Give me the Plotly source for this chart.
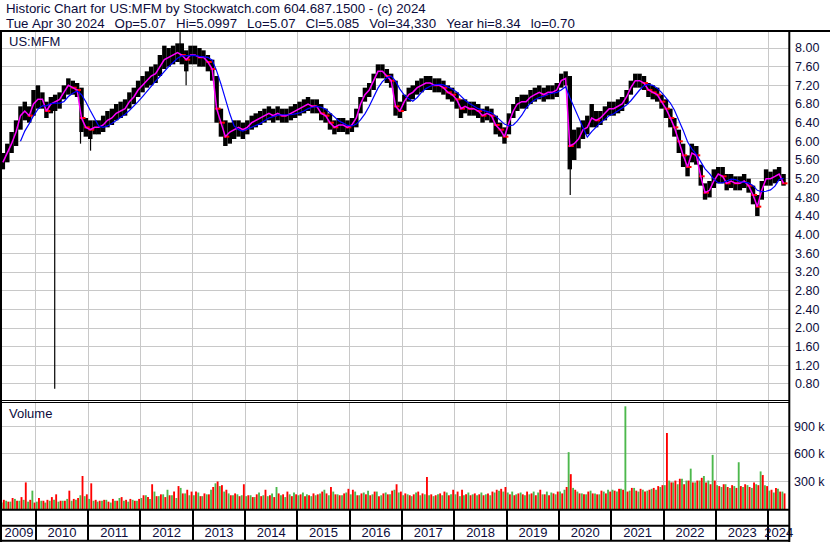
import numpy as np
import pandas as pd
import plotly.graph_objects as go

# ---------------- data ----------------
months = pd.date_range("2009-05-01", "2024-04-01", freq="MS")

close = [
    5.55, 5.75, 5.95, 6.20, 6.55, 6.65, 6.55, 6.80,                          # 2009 May-Dec
    6.90, 6.90, 6.65, 6.80, 6.85, 6.90, 7.05, 7.20, 7.15, 7.10, 6.50, 6.30,  # 2010
    6.25, 6.30, 6.30, 6.35, 6.45, 6.50, 6.60, 6.65, 6.70, 6.85, 6.95, 7.10,  # 2011
    7.20, 7.30, 7.40, 7.45, 7.60, 7.75, 7.80, 7.85, 7.90, 7.85, 7.75, 7.85,  # 2012
    7.85, 7.80, 7.80, 7.70, 7.55, 6.70, 6.40, 6.10, 6.20, 6.25, 6.30, 6.25,  # 2013
    6.30, 6.40, 6.45, 6.50, 6.55, 6.60, 6.55, 6.60, 6.55, 6.55, 6.60, 6.65,  # 2014
    6.70, 6.75, 6.80, 6.75, 6.75, 6.60, 6.55, 6.40, 6.30, 6.35, 6.35, 6.30,  # 2015
    6.35, 6.50, 6.80, 7.00, 7.10, 7.30, 7.50, 7.50, 7.40, 7.30, 6.75, 6.65,  # 2016
    6.85, 7.00, 7.05, 7.15, 7.20, 7.25, 7.25, 7.20, 7.20, 7.15, 7.05, 7.00,  # 2017
    6.90, 6.70, 6.75, 6.70, 6.70, 6.65, 6.55, 6.60, 6.55, 6.35, 6.25, 6.10,  # 2018
    6.40, 6.65, 6.80, 6.85, 6.85, 6.95, 7.00, 7.05, 7.00, 7.05, 7.05, 7.10,  # 2019
    7.30, 7.35, 5.90, 5.95, 6.05, 6.25, 6.30, 6.50, 6.45, 6.50, 6.60, 6.70,  # 2020
    6.70, 6.75, 6.80, 6.95, 7.15, 7.30, 7.30, 7.25, 7.10, 7.05, 7.00, 6.85,  # 2021
    6.70, 6.50, 6.30, 6.00, 5.70, 5.45, 5.75, 5.70, 5.25, 4.90, 4.95, 5.15,  # 2022
    5.30, 5.25, 5.10, 5.15, 5.10, 5.10, 5.15, 5.05, 4.85, 4.60, 4.95, 5.20,  # 2023
    5.20, 5.25, 5.30, 5.10,                                                  # 2024 Jan-Apr
]
high = [
    5.75, 5.95, 6.20, 6.45, 6.75, 6.85, 6.75, 7.10,
    7.20, 7.05, 6.85, 6.95, 7.00, 7.05, 7.20, 7.35, 7.30, 7.25, 7.15, 6.50,
    6.45, 6.45, 6.45, 6.55, 6.65, 6.70, 6.80, 6.85, 6.90, 7.05, 7.15, 7.30,
    7.40, 7.50, 7.60, 7.65, 7.85, 8.05, 8.00, 8.05, 8.10, 8.10, 7.95, 8.05,
    8.05, 8.00, 7.95, 7.85, 7.75, 7.40, 6.70, 6.45, 6.40, 6.45, 6.45, 6.40,
    6.45, 6.55, 6.60, 6.65, 6.70, 6.75, 6.70, 6.75, 6.70, 6.70, 6.75, 6.80,
    6.85, 6.90, 6.95, 6.90, 6.90, 6.80, 6.70, 6.60, 6.45, 6.50, 6.50, 6.45,
    6.50, 6.70, 6.95, 7.15, 7.25, 7.45, 7.65, 7.65, 7.55, 7.45, 7.30, 6.85,
    7.00, 7.15, 7.20, 7.30, 7.35, 7.40, 7.40, 7.35, 7.35, 7.30, 7.20, 7.15,
    7.05, 6.90, 6.90, 6.85, 6.85, 6.80, 6.70, 6.75, 6.70, 6.55, 6.40, 6.30,
    6.60, 6.80, 6.95, 7.00, 7.00, 7.10, 7.15, 7.20, 7.15, 7.20, 7.20, 7.25,
    7.45, 7.50, 7.40, 6.25, 6.30, 6.45, 6.55, 6.80, 6.65, 6.65, 6.75, 6.85,
    6.85, 6.90, 6.95, 7.10, 7.30, 7.45, 7.45, 7.40, 7.25, 7.20, 7.15, 7.00,
    6.90, 6.70, 6.50, 6.25, 5.95, 5.70, 5.95, 5.90, 5.50, 5.10, 5.15, 5.40,
    5.45, 5.45, 5.30, 5.30, 5.25, 5.25, 5.30, 5.20, 5.05, 4.85, 5.15, 5.40,
    5.35, 5.40, 5.45, 5.30,
]
low = [
    5.40, 5.55, 5.75, 5.90, 6.25, 6.45, 6.40, 6.55,
    6.70, 6.70, 6.50, 6.60, 6.65, 6.70, 6.90, 7.00, 7.00, 6.95, 6.20, 6.10,
    6.05, 6.15, 6.15, 6.20, 6.30, 6.35, 6.45, 6.50, 6.55, 6.70, 6.80, 6.95,
    7.05, 7.15, 7.20, 7.25, 7.40, 7.55, 7.60, 7.65, 7.70, 7.65, 7.50, 7.65,
    7.65, 7.60, 7.60, 7.50, 7.30, 6.40, 6.10, 5.90, 5.95, 6.05, 6.10, 6.05,
    6.15, 6.25, 6.30, 6.35, 6.40, 6.45, 6.40, 6.45, 6.40, 6.40, 6.45, 6.50,
    6.55, 6.60, 6.65, 6.60, 6.60, 6.45, 6.40, 6.25, 6.15, 6.20, 6.20, 6.15,
    6.20, 6.30, 6.60, 6.85, 6.95, 7.10, 7.35, 7.35, 7.25, 7.15, 6.55, 6.50,
    6.65, 6.85, 6.90, 7.00, 7.05, 7.10, 7.10, 7.05, 7.05, 7.00, 6.90, 6.85,
    6.70, 6.50, 6.60, 6.55, 6.55, 6.50, 6.40, 6.45, 6.40, 6.15, 6.10, 5.95,
    6.15, 6.50, 6.65, 6.70, 6.70, 6.80, 6.85, 6.90, 6.85, 6.90, 6.90, 6.95,
    7.15, 7.20, 5.40, 5.60, 5.85, 6.05, 6.15, 6.30, 6.30, 6.35, 6.45, 6.55,
    6.55, 6.60, 6.65, 6.80, 7.00, 7.15, 7.15, 7.10, 6.95, 6.90, 6.85, 6.70,
    6.50, 6.30, 6.10, 5.75, 5.45, 5.25, 5.55, 5.50, 5.05, 4.75, 4.80, 5.00,
    5.10, 5.10, 4.95, 5.00, 4.95, 4.95, 5.00, 4.90, 4.65, 4.40, 4.75, 5.05,
    5.05, 5.10, 5.15, 5.05,
]

# isolated single-day extreme prints
spike_dates = ["2010-05-13", "2010-11-09", "2011-01-18", "2012-10-04", "2012-11-15", "2020-03-19"]
spike_lo = [0.70, 5.95, 5.80, 7.80, 7.20, 4.85]
spike_hi = [6.90, 7.00, 6.30, 8.34, 7.80, 6.20]

# volume (thousands): an "up" (green) and a "down" (red) bar per month
vol_green = [
    70, 90, 80, 110, 90, 100, 80, 200,
    80, 90, 70, 90, 100, 80, 90, 110, 90, 100, 150, 140,
    110, 90, 80, 90, 100, 70, 90, 120, 90, 80, 100, 90,
    120, 150, 110, 190, 140, 160, 210, 150, 120, 230, 170, 150,
    150, 180, 140, 160, 210, 280, 250, 190, 170, 150, 160, 150,
    140, 150, 130, 180, 150, 140, 170, 240, 150, 130, 160, 180,
    150, 180, 160, 140, 150, 170, 210, 150, 190, 160, 150, 180,
    160, 190, 150, 180, 200, 160, 190, 150, 180, 160, 210, 180,
    150, 160, 140, 180, 150, 160, 150, 140, 160, 150, 180, 160,
    160, 140, 150, 180, 160, 150, 180, 160, 150, 180, 200, 190,
    180, 190, 160, 180, 150, 160, 190, 180, 160, 190, 180, 160,
    190, 210, 620, 230, 190, 170, 160, 200, 170, 160, 190, 210,
    210, 190, 220, 1120, 200, 230, 190, 210, 200, 220, 210, 240,
    260, 310, 290, 270, 330, 310, 440, 290, 310, 360, 310, 590,
    260, 240, 270, 230, 250, 510, 240, 260, 230, 270, 410, 260,
    200, 180, 220, 190,
]
vol_red = [
    100, 80, 120, 90, 130, 290, 100, 70,
    120, 90, 100, 130, 160, 90, 90, 200, 110, 120, 360, 160,
    280, 100, 90, 100, 80, 110, 90, 130, 100, 110, 90, 110,
    150, 130, 270, 140, 160, 130, 150, 190, 250, 170, 210, 190,
    190, 140, 170, 160, 240, 300, 260, 210, 150, 170, 140, 270,
    150, 130, 160, 140, 210, 150, 130, 170, 160, 190, 140, 160,
    160, 140, 150, 170, 160, 190, 170, 240, 160, 150, 170, 220,
    210, 150, 170, 160, 150, 190, 140, 170, 160, 200, 270, 190,
    170, 150, 160, 190, 170, 350, 160, 150, 170, 190, 150, 210,
    190, 210, 160, 150, 170, 160, 150, 170, 190, 210, 220, 240,
    160, 150, 170, 160, 190, 170, 150, 210, 160, 150, 170, 190,
    170, 240, 380, 210, 170, 160, 190, 170, 160, 200, 170, 190,
    200, 220, 210, 190, 230, 200, 220, 190, 210, 230, 250, 260,
    830, 290, 310, 330, 270, 310, 290, 310, 340, 290, 270, 310,
    250, 270, 240, 260, 230, 250, 270, 240, 290, 260, 370, 250,
    210, 230, 190, 170,
]

years = list(range(2009, 2025))
price_ticks = [0.80, 1.20, 1.60, 2.00, 2.40, 2.80, 3.20, 3.60, 4.00, 4.40,
               4.80, 5.20, 5.60, 6.00, 6.40, 6.80, 7.20, 7.60, 8.00]
vol_ticks = [300, 600, 900]
vol_tick_text = ["300 k", "600 k", "900 k"]

header1 = "Historic Chart for US:MFM by Stockwatch.com 604.687.1500 - (c) 2024"
header2_fields = ["Tue Apr 30 2024", "Op=5.07", "Hi=5.0997", "Lo=5.07", "Cl=5.085",
                  "Vol=34,330", "Year hi=8.34", "lo=0.70"]

# ---------------- layout geometry (pixels) ----------------
W, H = 830, 543
PL, PR, PT, PB = 2, 789, 32, 541
X0, X1 = pd.Timestamp("2009-05-10"), pd.Timestamp("2024-05-24")
PRICE_RANGE = [0.457, 8.343]
VOL_RANGE = [0, 1167]

def px_x(p):
    return (p - PL) / (PR - PL)

def px_y(p):
    return (PB - p) / (PB - PT)

FONT = "Liberation Sans, Arial, sans-serif"
TXT = "#0c0c3c"
GRID = "#c8c8c8"
DAY = 86400000

close_a = np.array(close)
high_a = np.array(high)
low_a = np.array(low)
mid = months + pd.Timedelta(days=15)

fig = go.Figure()

# price band (monthly high-low)
fig.add_trace(go.Bar(x=mid, y=high_a - low_a, base=low_a, width=31 * DAY,
                     marker=dict(color="black", line=dict(width=0)),
                     xaxis="x", yaxis="y"))
# spikes
sx, sy = [], []
for d, lo_, hi_ in zip(spike_dates, spike_lo, spike_hi):
    sx += [d, d, None]
    sy += [lo_, hi_, None]
fig.add_trace(go.Scatter(x=sx, y=sy, mode="lines", line=dict(color="black", width=1.2),
                         xaxis="x", yaxis="y"))
# red close ticks on down months
down = np.r_[False, close_a[1:] < close_a[:-1]]
fig.add_trace(go.Scatter(x=(mid + pd.Timedelta(days=8))[down], y=close_a[down], mode="markers",
                         marker=dict(symbol="line-ew", size=4,
                                     line=dict(color="#ff0000", width=2)),
                         xaxis="x", yaxis="y"))
# moving averages
fig.add_trace(go.Scatter(x=mid, y=close_a, mode="lines",
                         line=dict(color="#ff00ff", width=1.5), xaxis="x", yaxis="y"))
ma_long = pd.Series(close_a).rolling(5).mean()
fig.add_trace(go.Scatter(x=mid, y=ma_long, mode="lines",
                         line=dict(color="#0000ff", width=1.2), xaxis="x", yaxis="y"))

# volume
fig.add_trace(go.Bar(x=months + pd.Timedelta(days=7), y=vol_green, width=13 * DAY,
                     marker=dict(color="#4cb84c", line=dict(width=0)),
                     xaxis="x2", yaxis="y2"))
fig.add_trace(go.Bar(x=months + pd.Timedelta(days=22), y=vol_red, width=13 * DAY,
                     marker=dict(color="#ff0000", line=dict(width=0)),
                     xaxis="x2", yaxis="y2"))

# year labels in the bottom strip
ylx = []
for yr in years:
    a = max(pd.Timestamp(f"{yr}-01-01"), X0)
    b = min(pd.Timestamp(f"{yr + 1}-01-01"), X1)
    ylx.append(a + (b - a) / 2)
fig.add_trace(go.Scatter(x=ylx, y=[0.23] * len(years), mode="text",
                         text=[str(y) for y in years], cliponaxis=False,
                         textfont=dict(family=FONT, size=13, color=TXT),
                         xaxis="x3", yaxis="y3"))

xcommon = dict(type="date", showgrid=True, gridcolor=GRID, gridwidth=1,
               dtick="M12", tick0="2010-01-01", showticklabels=False,
               ticks="", zeroline=False, showline=False)

fig.update_layout(
    width=W, height=H,
    margin=dict(l=PL, r=W - PR, t=PT, b=H - PB),
    paper_bgcolor="white", plot_bgcolor="white",
    showlegend=False, barmode="overlay", hovermode=False,
    xaxis=dict(**xcommon, range=[X0, X1], anchor="y", domain=[0, 1]),
    xaxis2=dict(**xcommon, matches="x", anchor="y2", domain=[0, 1]),
    xaxis3=dict(**{**xcommon, "gridcolor": "black", "gridwidth": 2},
                matches="x", anchor="y3", domain=[0, 1]),
    yaxis=dict(domain=[px_y(400), 1], range=PRICE_RANGE, side="right",
               tickvals=price_ticks, ticktext=[f"{v:.2f}" for v in price_ticks],
               showgrid=True, gridcolor=GRID, zeroline=False, ticks="",
               ticklabelstandoff=5, anchor="x",
               tickfont=dict(family=FONT, size=12.5, color=TXT)),
    yaxis2=dict(domain=[px_y(509), px_y(402)], range=VOL_RANGE, side="right",
                tickvals=vol_ticks, ticktext=vol_tick_text,
                showgrid=True, gridcolor=GRID, zeroline=False, ticks="",
                ticklabelstandoff=4, anchor="x2",
                tickfont=dict(family=FONT, size=12.5, color=TXT)),
    yaxis3=dict(domain=[0, px_y(510)], range=[0, 1], showgrid=False,
                showticklabels=False, zeroline=False, ticks="", anchor="x3"),
)

# frame lines
def hline(py, x0=0, x1=PR, w=2):
    fig.add_shape(type="line", xref="paper", yref="paper",
                  x0=px_x(x0), x1=px_x(x1), y0=px_y(py), y1=px_y(py),
                  line=dict(color="black", width=w))

def vline(px, y0, y1, w=2):
    fig.add_shape(type="line", xref="paper", yref="paper",
                  x0=px_x(px), x1=px_x(px), y0=px_y(y0), y1=px_y(y1),
                  line=dict(color="black", width=w))

hline(31, 0, W)
hline(400.5, 0, PR, 1)
hline(402.5, 0, PR, 1)
hline(509.8)
hline(525.8)
hline(540.8)
vline(1, 31, 542)
vline(789.3, 31, 542)

def label(text, px, py, size=13.3):
    fig.add_annotation(text=text, xref="paper", yref="paper", x=px_x(px), y=px_y(py),
                       xanchor="left", yanchor="middle", showarrow=False,
                       font=dict(family=FONT, size=size, color=TXT))

GAP = "\u00a0\u00a0\u2009"
label(header1.replace(" ", "\u00a0"), 4, 8.5)
label(GAP.join(f.replace(" ", "\u00a0") for f in header2_fields), 4, 23.5)
label("US:MFM", 7, 42, 13)
label("Volume", 7, 413.5, 13)

fig.write_html("out.html",
               config={"displayModeBar": False, "staticPlot": True},
               post_script="document.body.style.margin='0';"
                           "document.body.style.overflow='hidden';")
